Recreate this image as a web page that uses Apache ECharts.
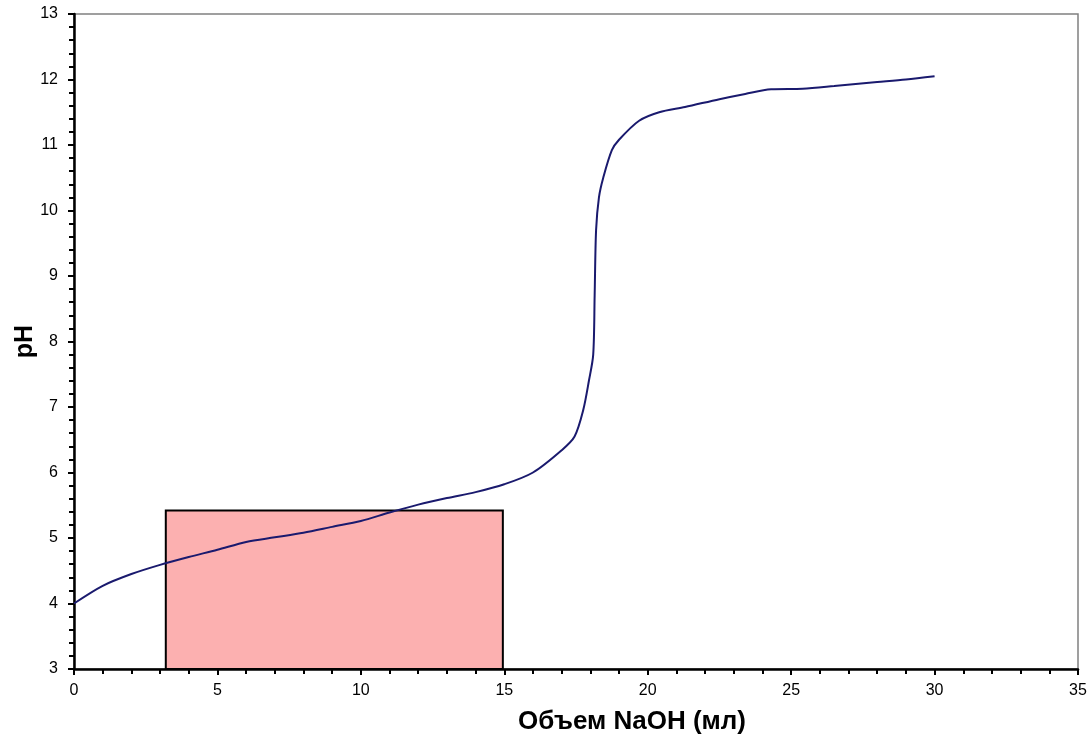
<!DOCTYPE html>
<html>
<head>
    <meta charset="utf-8">
    <title>Кривая титрования</title>
    <script src="https://cdn.jsdelivr.net/npm/echarts@6/dist/echarts.min.js"></script>
    <style>
        html, body { margin: 0; padding: 0; background: #fff; }
    </style>
</head>
<body>
    <div id="chart" style="width: 1090px;height:739px;"></div>
    <script type="text/javascript">
        // объем NaOH (мл) и pH
        var volume = [0, 1, 2, 3, 4, 5, 6, 7, 8, 9, 10, 11, 12, 13, 14, 15, 16, 17,
                      17.45, 17.75, 17.95, 18.1, 18.15, 18.2, 18.3, 18.45, 18.75, 19.0,
                      19.7, 20.4, 21.3, 22.5, 23.4, 24.3, 25.4, 26.5, 28.0, 29.0, 30.0];
        var ph = [4.0, 4.27, 4.45, 4.59, 4.71, 4.82, 4.94, 5.01, 5.08, 5.17, 5.26, 5.39, 5.51, 5.61, 5.70, 5.82, 6.0, 6.34,
                  6.55, 6.95, 7.4, 7.8, 8.7, 9.7, 10.2, 10.5, 10.92, 11.08,
                  11.37, 11.5, 11.58, 11.7, 11.78, 11.85, 11.86, 11.9, 11.96, 12.0, 12.05];
        // прямоугольник: [x0, y0], [x1, y1]
        var boxFrom = [3.2, 3];
        var boxTo = [14.95, 5.42];

        var points = [];
        for (var i = 0; i < volume.length; i++) {
            points.push([volume[i], ph[i]]);
        }

        var font = 'Liberation Sans, Arial, sans-serif';
        var chart = echarts.init(document.getElementById('chart'));
        var option = {
            animation: false,
            grid: {
                left: 74,
                right: 12,
                top: 14,
                bottom: 70,
                outerBoundsMode: 'none',
                show: true,
                borderColor: '#808080',
                borderWidth: 1.5,
                backgroundColor: '#fff'
            },
            xAxis: {
                type: 'value',
                min: 0,
                max: 35,
                interval: 5,
                name: 'Объем NaOH (мл)',
                nameLocation: 'middle',
                nameMoveOverlap: false,
                nameGap: 40,
                nameTextStyle: {
                    fontFamily: font,
                    fontSize: 26,
                    fontWeight: 'bold',
                    color: '#000',
                    padding: [0, 0, 0, 112]
                },
                axisLine: { lineStyle: { color: '#000', width: 2.5 } },
                axisTick: { show: true, length: 6, lineStyle: { color: '#000', width: 2 } },
                minorTick: { show: true, splitNumber: 5, length: 5, lineStyle: { color: '#000', width: 2 } },
                axisLabel: { fontFamily: font, fontSize: 16, color: '#000', margin: 14 },
                splitLine: { show: false }
            },
            yAxis: {
                type: 'value',
                min: 3,
                max: 13,
                interval: 1,
                name: 'pH',
                nameLocation: 'middle',
                nameMoveOverlap: false,
                nameGap: 36,
                nameTextStyle: {
                    fontFamily: font,
                    fontSize: 25,
                    fontWeight: 'bold',
                    color: '#000'
                },
                axisLine: { lineStyle: { color: '#000', width: 2.5 } },
                axisTick: { show: true, length: 6, lineStyle: { color: '#000', width: 2 } },
                minorTick: { show: true, splitNumber: 5, length: 5, lineStyle: { color: '#000', width: 2 } },
                axisLabel: { fontFamily: font, fontSize: 16, color: '#000', margin: 16 },
                splitLine: { show: false }
            },
            series: [
                {
                    type: 'line',
                    data: points,
                    smooth: 0.3,
                    showSymbol: false,
                    lineStyle: { color: '#1a1a6e', width: 2 },
                    z: 3,
                    markArea: {
                        silent: true,
                        itemStyle: {
                            color: '#fcb0b0',
                            borderColor: '#000',
                            borderWidth: 2
                        },
                        data: [[
                            { coord: boxFrom },
                            { coord: boxTo }
                        ]]
                    }
                }
            ]
        };
        chart.setOption(option);
    </script>
</body>
</html>
